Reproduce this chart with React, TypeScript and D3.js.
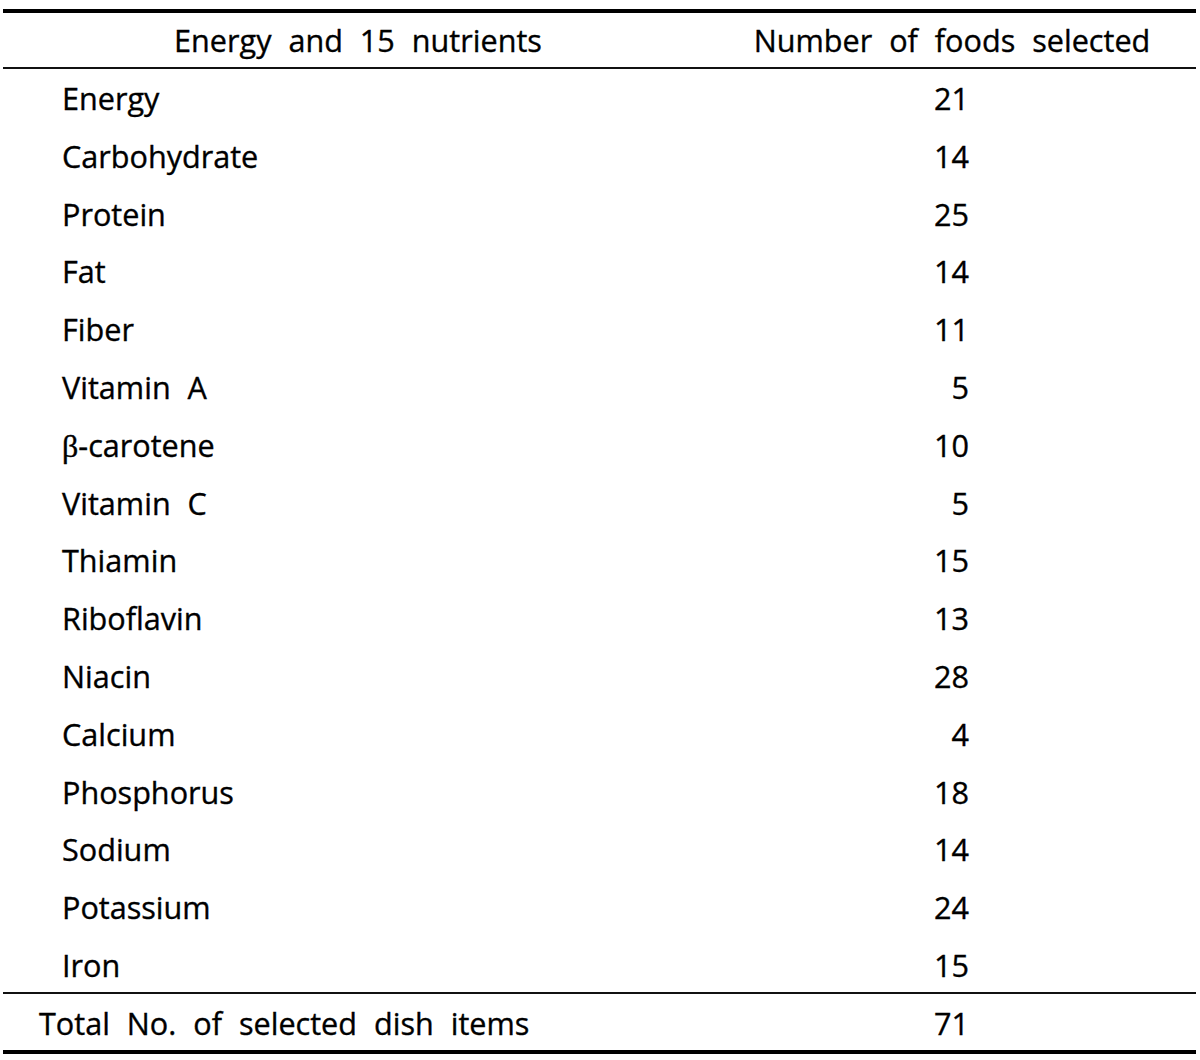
import React from 'react';
import * as d3 from 'd3';

const nutrients = [
  'Energy', 'Carbohydrate', 'Protein', 'Fat', 'Fiber', 'Vitamin A', 'β-carotene',
  'Vitamin C', 'Thiamin', 'Riboflavin', 'Niacin', 'Calcium', 'Phosphorus',
  'Sodium', 'Potassium', 'Iron',
];
const foodsSelected = [21, 14, 25, 14, 11, 5, 10, 5, 15, 13, 28, 4, 18, 14, 24, 15];
const headers = ['Energy and 15 nutrients', 'Number of foods selected'];
const totalLabel = 'Total No. of selected dish items';
const totalValue = 71;

const W = 1200;
const H = 1060;
const FONT = "'Open Sans', 'Noto Sans', sans-serif";

function Label({ text }: { text: string }) {
  // beta glyph is set in a serif face in the source
  if (text.startsWith('β')) {
    return (
      <>
        <tspan fontFamily="'Liberation Serif', 'DejaVu Serif', serif" fontSize={32}>β</tspan>
        <tspan>{text.slice(1)}</tspan>
      </>
    );
  }
  return <>{text}</>;
}

export default function App() {
  // row baselines
  const y = d3.scaleLinear().domain([0, nutrients.length - 1]).range([110, 977]);
  const rowStep = y(1) - y(0);
  const totalY = y(nutrients.length - 1) + rowStep;

  const labelX = 62;
  const valueX = 969;

  return (
    <svg width={W} height={H} style={{ position: 'absolute', left: 0, top: 0, background: '#fff' }}
      fontFamily={FONT} fontSize={30.6} fill="#000" stroke="#000" strokeWidth={0.35}>
      <g stroke="none">
        <rect x={3} width={1193} y={9} height={4} fill="#000" />
        <rect x={3} width={1193} y={67} height={2} fill="#111" />
        <rect x={3} width={1193} y={992} height={2} fill="#111" />
        <rect x={3} width={1193} y={1050} height={4} fill="#000" />
      </g>

      <text x={358} y={52} textAnchor="middle" wordSpacing={9}>{headers[0]}</text>
      <text x={952} y={52} textAnchor="middle" wordSpacing={9}>{headers[1]}</text>

      {nutrients.map((n, i) => (
        <g key={n}>
          <text x={labelX} y={y(i)} wordSpacing={9} style={{ whiteSpace: 'pre' }}>
            <Label text={n} />
          </text>
          <text x={valueX} y={y(i)} textAnchor="end">{foodsSelected[i]}</text>
        </g>
      ))}

      <text x={39} y={totalY} wordSpacing={9}>{totalLabel}</text>
      <text x={valueX} y={totalY} textAnchor="end">{totalValue}</text>
    </svg>
  );
}
